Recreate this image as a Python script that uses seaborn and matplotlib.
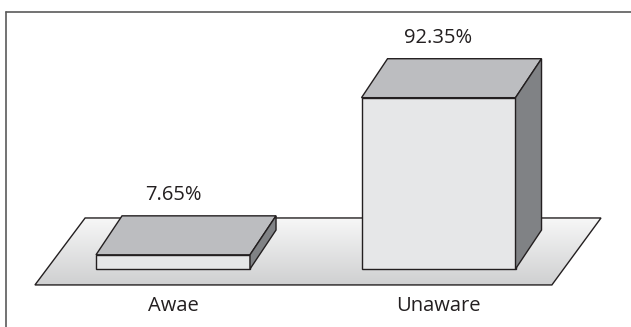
import numpy as np
import pandas as pd
import matplotlib
matplotlib.use("Agg")
import matplotlib.pyplot as plt
from matplotlib.patches import Polygon
from matplotlib.lines import Line2D
import seaborn as sns

# data
categories = ["Awae", "Unaware"]
values = [7.65, 92.35]
value_labels = ["7.65%", "92.35%"]

sns.set_style("white")
plt.rcParams["font.family"] = ["Open Sans", "DejaVu Sans"]

front_col = "#e6e7e8"     # front face of the boxes
top_col = "#bcbdc0"       # top face
side_col = "#808285"      # right side face
edge_col = "#231f20"

df = pd.DataFrame({"cat": categories, "val": values})

fig = plt.figure(figsize=(6.31, 3.27), dpi=100)
ax = fig.add_axes([0, 0, 1, 1])

sns.barplot(data=df, x="cat", y="val", color=front_col, width=0.58,
            edgecolor=edge_col, linewidth=1.0, saturation=1, ax=ax, zorder=3)

ax.set_xlim(-0.6516, 1.725)
ax.set_ylim(-31.27, 145.0)
ax.axis("off")

# oblique depth of the boxes (data units)
dx, dy = 0.098, 21.0

# floor plane
floor = np.array([[-0.52, -8.6], [1.427, -8.6], [1.612, 27.5], [-0.331, 27.5]])
grad = np.linspace(0, 1, 256).reshape(-1, 1)
floor_patch = Polygon(floor, closed=True, facecolor="none", edgecolor=edge_col,
                      linewidth=1.0, zorder=2)
ax.add_patch(floor_patch)
img = ax.imshow(grad, cmap=matplotlib.colors.LinearSegmentedColormap.from_list(
                    "fl", ["#cfd0d1", "#f7f7f7"]),
                extent=(-0.52, 1.612, -8.6, 27.5), origin="lower",
                aspect="auto", zorder=1)
img.set_clip_path(floor_patch)
ax.set_xlim(-0.6516, 1.725)
ax.set_ylim(-31.27, 145.0)

# top and side faces built from the bar rectangles
for bar in list(ax.patches):
    if bar is floor_patch:
        continue
    x0 = bar.get_x()
    x1 = x0 + bar.get_width()
    h = bar.get_height()
    top = Polygon([[x0, h], [x0 + dx, h + dy], [x1 + dx, h + dy], [x1, h]],
                  closed=True, facecolor=top_col, edgecolor=edge_col,
                  linewidth=1.0, zorder=3)
    side = Polygon([[x1, 0], [x1 + dx, dy], [x1 + dx, h + dy], [x1, h]],
                   closed=True, facecolor=side_col, edgecolor=edge_col,
                   linewidth=1.0, zorder=3)
    ax.add_patch(top)
    ax.add_patch(side)

# value labels and category names
for i, (v, lab) in enumerate(zip(values, value_labels)):
    ax.annotate(lab, xy=(i, v), xytext=(0, 43), textcoords="offset points",
                ha="center", va="center", fontsize=14.5, color="#231f20")
    ax.text(i, -20.0, categories[i], ha="center", va="center",
            fontsize=14.5, color="#231f20")

# outer frame (left and top only)
fig.add_artist(Line2D([6 / 631, 6 / 631], [0, 1 - 12 / 327], transform=fig.transFigure,
                      color="#5a5a5a", linewidth=1.2))
fig.add_artist(Line2D([6 / 631, 1], [1 - 12 / 327, 1 - 12 / 327], transform=fig.transFigure,
                      color="#5a5a5a", linewidth=1.2))

plt.savefig("out.png", dpi=100)
